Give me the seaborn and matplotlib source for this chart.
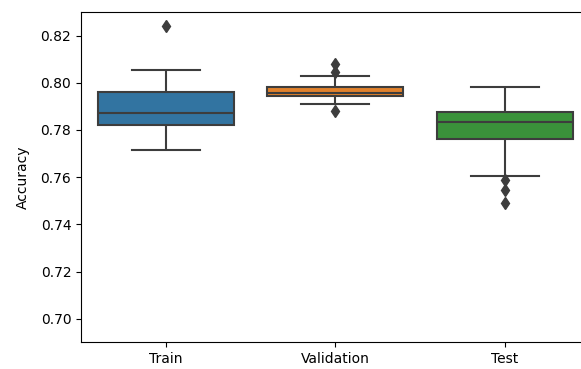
import matplotlib
matplotlib.use("Agg")
import matplotlib.pyplot as plt
import seaborn as sns
import pandas as pd

# accuracy values per split
categories = ["Train", "Validation", "Test"]
train_acc = [0.7716, 0.7790, 0.7819, 0.7850, 0.7874, 0.7920, 0.7959, 0.8054, 0.8241]
val_acc = [0.7880, 0.7911, 0.7930, 0.7942, 0.7948, 0.7952, 0.7955,
           0.7965, 0.7975, 0.7982, 0.8030, 0.8045, 0.8079]
test_acc = [0.7491, 0.7547, 0.7589, 0.7603, 0.7763, 0.7780, 0.7800, 0.7820, 0.7834,
            0.7845, 0.7855, 0.7866, 0.7877, 0.7900, 0.7930, 0.7960, 0.7980]

df = pd.DataFrame({
    "split": ["Train"] * len(train_acc) + ["Validation"] * len(val_acc) + ["Test"] * len(test_acc),
    "Accuracy": train_acc + val_acc + test_acc,
})

plt.rcParams["font.family"] = ["DejaVu Sans"]
plt.rcParams["font.size"] = 10

fig = plt.figure(figsize=(5.81, 3.69), dpi=100)
ax = fig.add_axes([81 / 581, 1 - 342.3 / 369, 508.5 / 581, 330.3 / 369])

sns.boxplot(data=df, x="split", y="Accuracy", hue="split", order=categories,
            hue_order=categories, palette="tab10", saturation=0.75, legend=False,
            linecolor="#3d3d3d", linewidth=1.5, width=0.8,
            flierprops={"marker": "d", "markersize": 6.5, "markerfacecolor": "#3d3d3d",
                        "markeredgecolor": "#3d3d3d"},
            ax=ax)

ax.set_ylim(0.69, 0.83)
ax.set_yticks([0.70, 0.72, 0.74, 0.76, 0.78, 0.80, 0.82])
ax.set_xlabel("")
ax.set_ylabel("Accuracy", labelpad=8)

fig.savefig("out.png", dpi=100)
